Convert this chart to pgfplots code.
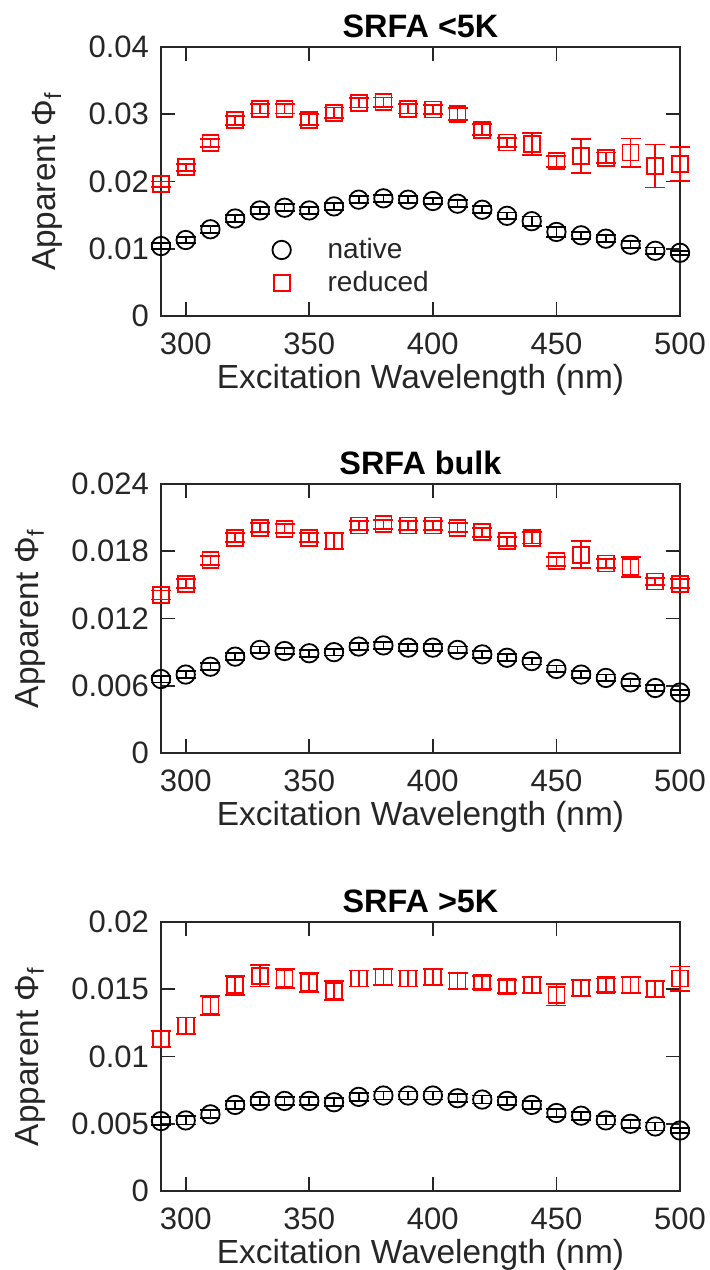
\documentclass[border=0pt]{standalone}
\usepackage{pgfplots}
\usepackage{pgfplotstable}
\pgfplotsset{compat=1.18}
\usepackage{fontspec}
\setmainfont{Liberation Sans}
\definecolor{axgray}{RGB}{38,38,38}
\definecolor{mred}{RGB}{255,0,0}

\pgfplotstableread{
x y e
290 0.0104 0.0004
300 0.0113 0.0004
310 0.0129 0.0005
320 0.0145 0.0005
330 0.0157 0.0005
340 0.0161 0.0005
350 0.0157 0.0005
360 0.0163 0.0005
370 0.0173 0.0005
380 0.0175 0.0005
390 0.0173 0.0005
400 0.0171 0.0005
410 0.0167 0.0005
420 0.0158 0.0005
430 0.0149 0.0005
440 0.0141 0.0007
450 0.0125 0.0007
460 0.0120 0.0005
470 0.0115 0.0005
480 0.0106 0.0005
490 0.0097 0.0005
500 0.0094 0.0003
}\nativeA
\pgfplotstableread{
x y e
290 0.0196 0.0004
300 0.0221 0.0005
310 0.0257 0.0006
320 0.0291 0.0007
330 0.0308 0.0007
340 0.0308 0.0007
350 0.0292 0.0008
360 0.0302 0.0008
370 0.0317 0.0007
380 0.0318 0.0007
390 0.0308 0.0007
400 0.0307 0.0007
410 0.0300 0.0009
420 0.0277 0.0008
430 0.0258 0.0007
440 0.0256 0.0016
450 0.0230 0.0008
460 0.0238 0.0025
470 0.0235 0.0008
480 0.0243 0.0021
490 0.0223 0.0032
500 0.0226 0.0025
}\reducedA
\pgfplotstableread{
x y e
290 0.0066 0.0003
300 0.0070 0.0003
310 0.0077 0.0003
320 0.0086 0.0003
330 0.0092 0.0003
340 0.0091 0.0003
350 0.0089 0.0003
360 0.0090 0.0003
370 0.0095 0.0003
380 0.0096 0.0003
390 0.0094 0.0003
400 0.0094 0.0003
410 0.0092 0.0003
420 0.0088 0.0003
430 0.0085 0.0003
440 0.0082 0.0003
450 0.0075 0.0003
460 0.0070 0.0003
470 0.0067 0.0003
480 0.0063 0.0003
490 0.0058 0.0003
500 0.0054 0.0002
}\nativeB
\pgfplotstableread{
x y e
290 0.0141 0.0004
300 0.0151 0.0004
310 0.0172 0.0004
320 0.0192 0.0004
330 0.0201 0.0004
340 0.0200 0.0004
350 0.0192 0.0004
360 0.0189 0.0007
370 0.0203 0.0004
380 0.0204 0.0004
390 0.0203 0.0004
400 0.0203 0.0004
410 0.0201 0.0004
420 0.0197 0.0004
430 0.0189 0.0004
440 0.0192 0.0005
450 0.0171 0.0004
460 0.0177 0.0012
470 0.0169 0.0004
480 0.0166 0.0009
490 0.0153 0.0003
500 0.0151 0.0004
}\reducedB
\pgfplotstableread{
x y e
290 0.0052 0.0003
300 0.00525 0.0003
310 0.0057 0.0003
320 0.0064 0.0003
330 0.0067 0.0003
340 0.0067 0.0003
350 0.0067 0.0003
360 0.0066 0.0003
370 0.0070 0.0003
380 0.0071 0.0003
390 0.0071 0.0003
400 0.0071 0.0003
410 0.0069 0.0003
420 0.0068 0.0003
430 0.0067 0.0003
440 0.0064 0.0003
450 0.0058 0.0003
460 0.0056 0.0003
470 0.00525 0.0003
480 0.0050 0.0003
490 0.0048 0.0003
500 0.0045 0.0002
}\nativeC
\pgfplotstableread{
x y e
290 0.0113 0.0006
300 0.0123 0.0006
310 0.0138 0.0007
320 0.0153 0.0007
330 0.0160 0.0008
340 0.0158 0.0007
350 0.0155 0.0007
360 0.0149 0.0007
370 0.0158 0.0006
380 0.0159 0.0006
390 0.0158 0.0006
400 0.0159 0.0006
410 0.0156 0.0006
420 0.0155 0.0005
430 0.0152 0.0005
440 0.0153 0.0006
450 0.0146 0.0008
460 0.0151 0.0006
470 0.0153 0.0005
480 0.0153 0.0006
490 0.0150 0.0006
500 0.0158 0.0009
}\reducedC

\pgfplotsset{
  panel/.style={
    width=259.5pt, height=134.5pt, scale only axis,
    xmin=290, xmax=500, ymin=0,
    scaled y ticks=false, scaled x ticks=false,
    xtick={300,350,400,450,500},
    xticklabels={300,350,400,450,500},
    axis line style={axgray, line width=0.9pt},
    every tick/.style={axgray, line width=0.9pt},
    major tick length=7pt,
    tick align=inside,
    tick label style={font=\fontsize{15.5}{18}\selectfont, text=axgray},
    xticklabel style={yshift=-5pt},
    yticklabel style={xshift=-2.5pt},
    label style={font=\fontsize{16.7}{20}\selectfont, text=axgray},
    xlabel style={yshift=2pt},
    ylabel style={yshift=6pt},
    title style={font=\bfseries\fontsize{16.2}{19}\selectfont, text=black, yshift=-5pt},
    xlabel={Excitation Wavelength (nm)},
    ylabel={Apparent Φ\textsubscript{f}},
    clip=false,
  },
  natstyle/.style={only marks, mark=o, draw=black, mark size=4.6pt,
    mark options={line width=0.9pt, fill=none, draw=black},
    error bars/.cd, y dir=both, y explicit,
    error bar style={black, line width=0.9pt},
    error mark options={rotate=90, black, mark size=5pt, line width=0.9pt}},
  redstyle/.style={only marks, mark=square, draw=mred, mark size=4pt,
    mark options={line width=0.9pt, fill=none, draw=mred},
    error bars/.cd, y dir=both, y explicit,
    error bar style={mred, line width=0.9pt},
    error mark options={rotate=90, mred, mark size=5pt, line width=0.9pt}},
}

\begin{document}
\begin{tikzpicture}
\useasboundingbox (0,0) rectangle (354.5pt,-635pt);
\begin{axis}[panel, at={(80.5pt,-158pt)}, anchor=south west,
  title={SRFA <5K}, ymax=0.04,
  ytick={0,0.01,0.02,0.03,0.04}, yticklabels={0,0.01,0.02,0.03,0.04},
  legend style={draw=none, fill=none, at={(0.197,0.32)}, anchor=north west,
    font=\fontsize{14}{16}\selectfont, text=axgray, row sep=1pt},
  legend cell align=left,
  legend image code/.code={\path[draw=none,fill=none] (-6pt,0pt) -- (21pt,0pt); \draw[#1] plot coordinates {(0pt,0pt)};},
]
\addplot[natstyle] table[x=x,y=y,y error=e]{\nativeA};
\addplot[redstyle] table[x=x,y=y,y error=e]{\reducedA};
\legend{native,reduced}
\end{axis}
\begin{axis}[panel, at={(80.5pt,-376.5pt)}, anchor=south west,
  title={SRFA bulk}, ymax=0.024,
  ytick={0,0.006,0.012,0.018,0.024}, yticklabels={0,0.006,0.012,0.018,0.024},
]
\addplot[natstyle] table[x=x,y=y,y error=e]{\nativeB};
\addplot[redstyle] table[x=x,y=y,y error=e]{\reducedB};
\end{axis}
\begin{axis}[panel, at={(80.5pt,-595.5pt)}, anchor=south west,
  title={SRFA >5K}, ymax=0.02,
  ytick={0,0.005,0.01,0.015,0.02}, yticklabels={0,0.005,0.01,0.015,0.02},
]
\addplot[natstyle] table[x=x,y=y,y error=e]{\nativeC};
\addplot[redstyle] table[x=x,y=y,y error=e]{\reducedC};
\end{axis}
\end{tikzpicture}
\end{document}
